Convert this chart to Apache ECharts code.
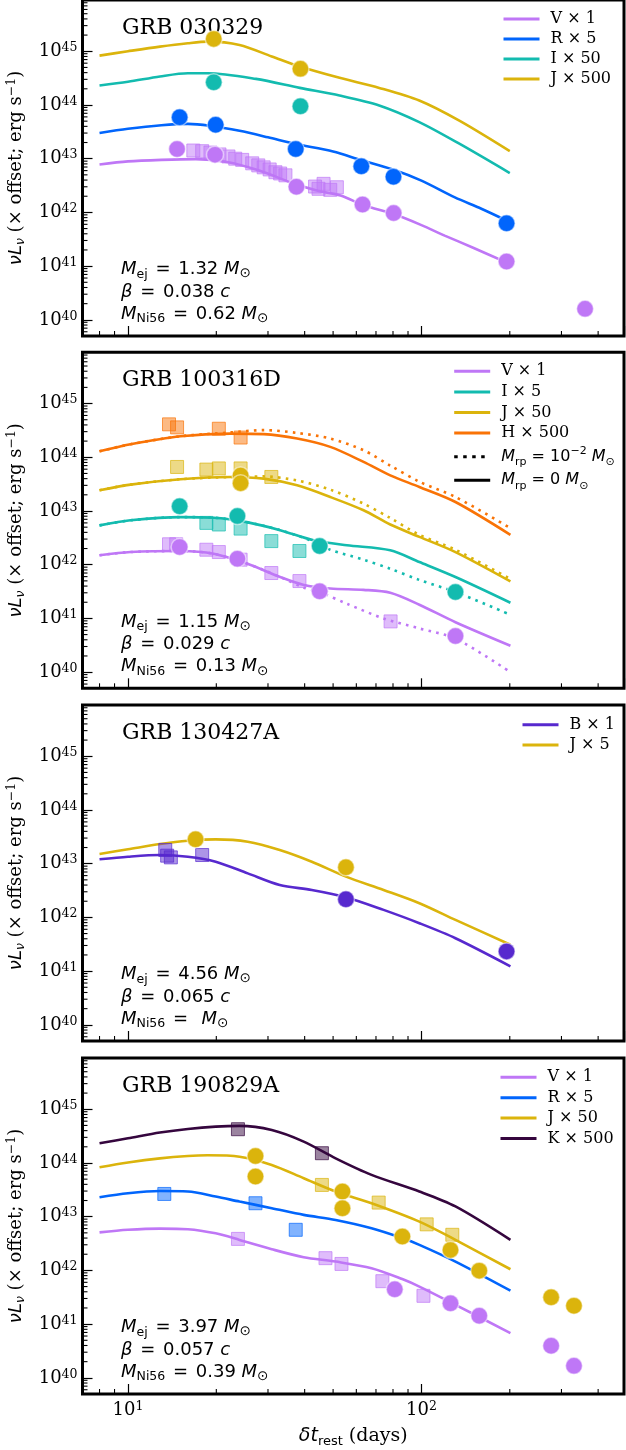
<!DOCTYPE html>
<html><head><meta charset="utf-8">
<script src="https://cdn.jsdelivr.net/npm/echarts@6/dist/echarts.min.js"></script>
<style>html,body{margin:0;padding:0;background:#fff}#c{width:626px;height:1450px}</style>
</head><body><div id="c"></div>
<script>
// ---------- axis ranges / ticks ----------
const X_MIN = 7, X_MAX = 490, Y_MIN = 5e39, Y_MAX = 9e45;
const X_MINOR = [8, 9, 20, 30, 40, 50, 60, 70, 80, 90, 200, 300, 400];
const MANTISSA = [2, 3, 4, 5, 6, 7, 8, 9];
const DECADES = [39, 40, 41, 42, 43, 44, 45];

// ---------- panel texts ----------
const TITLES = ['GRB 030329', 'GRB 100316D', 'GRB 130427A', 'GRB 190829A'];
const M_EJ = ['1.32', '1.15', '4.56', '3.97'];
const BETA = ['0.038', '0.029', '0.065', '0.057'];
const M_NI = ['0.62', '0.13', '', '0.39'];

// ---------- colours ----------
const C = {V:'#bf77f6', R:'#0165fc', I:'#13bbaf', J:'#dbb40c', H:'#f97306', K:'#35063e', B:'#5729ce'};

// ---------- Panel 1 : GRB 030329 ----------
const P1_V_MODEL = [[8,7.8e42],[10,8.9e42],[13,9.5e42],[17,9.8e42],[22,8.6e42],[28,6.0e42],[37,3.4e42],[44,2.55e42],[53,2.06e42],[64,1.34e42],[80,9.4e41],[100,5.8e41],[120,3.7e41],[150,2.2e41],[200,1.1e41]];
const P1_R_MODEL = [[8,3.0e43],[10,3.6e43],[13,4.2e43],[16,4.45e43],[19,4.1e43],[24,3.3e43],[30,2.5e43],[37,1.89e43],[50,1.36e43],[62,9.5e42],[80,6.3e42],[100,3.9e42],[130,1.9e42],[160,1.17e42],[200,6.6e41]];
const P1_I_MODEL = [[8,2.3e44],[10,2.7e44],[12.85,3.4e44],[16,3.9e44],[18.7,3.9e44],[27.3,3.06e44],[38.5,2.08e44],[52.6,1.5e44],[71.8,9.8e43],[98.3,4.8e43],[134.6,1.9e43],[200,5.4e42]];
const P1_J_MODEL = [[8,8.3e44],[10,1.0e45],[12.85,1.22e45],[16,1.41e45],[18.7,1.51e45],[24,1.31e45],[30.9,8.0e44],[38.5,5.2e44],[52.6,3.2e44],[71.8,2.08e44],[98.3,1.21e44],[134.6,5.1e43],[200,1.38e43]];
const P1_V_CIRC = [[14.7,1.52e43],[19.8,1.19e43],[37.5,3.0e42],[63,1.4e42],[80.4,9.7e41],[195,1.22e41],[361,1.6e40]];
const P1_V_SQ = [[16.7,1.42e43],[17.9,1.38e43],[19.1,1.30e43],[20.5,1.2e43],[22.0,1.10e43],[23.2,1.0e43],[24.5,9.5e42],[26.5,8.2e42],[27.8,7.5e42],[29.0,6.9e42],[30.4,6.3e42],[31.8,5.6e42],[33,5.3e42],[34.4,4.9e42],[43.4,3.03e42],[44.6,2.75e42],[46.4,3.4e42],[48.9,2.63e42],[51.5,2.94e42]];
const P1_R_CIRC = [[15.0,5.9e43],[19.9,4.3e43],[37.3,1.52e43],[62.4,7.2e42],[80.3,4.6e42],[195,6.3e41]];
const P1_I_CIRC = [[19.6,2.65e44],[38.7,9.5e43]];
const P1_J_CIRC = [[19.6,1.7e45],[38.7,4.7e44]];

// ---------- Panel 2 : GRB 100316D ----------
const P2_V_MODEL = [[8,1.5e42],[10.2,1.72e42],[15.1,1.8e42],[19.6,1.6e42],[25.4,1.05e42],[33,5.9e41],[39.5,4.25e41],[48.9,3.6e41],[63.5,3.4e41],[78.3,3.0e41],[98.4,1.8e41],[130.6,8.5e40],[201,3.1e40]];
const P2_V_DOT = [[8,1.5e42],[10.2,1.72e42],[15.1,1.8e42],[19.6,1.6e42],[25.4,1.05e42],[33,5.9e41],[39.5,3.8e41],[45,3.1e41],[56,1.85e41],[74.3,1.0e41],[98.4,6.5e40],[130.6,4.2e40],[201,1.0e40]];
const P2_I_MODEL = [[8,5.4e42],[10.2,6.7e42],[15.1,7.7e42],[19.6,7.5e42],[25.4,6.2e42],[33,4.4e42],[42.9,2.85e42],[55.7,2.3e42],[78.3,1.85e42],[98.4,1.12e42],[130.6,5.9e41],[201,1.96e41]];
const P2_I_DOT = [[8,5.4e42],[10.2,6.7e42],[15.1,7.7e42],[19.6,7.5e42],[25.4,6.2e42],[33,4.4e42],[42.9,2.7e42],[48.9,1.9e42],[63.5,1.24e42],[78.3,8.4e41],[98.4,5.2e41],[130.6,3.1e41],[201,1.17e41]];
const P2_J_MODEL = [[8,2.43e43],[10.2,3.1e43],[15.1,3.9e43],[22.3,4.3e43],[29,4.0e43],[37.7,3.0e43],[48.9,1.82e43],[63.5,1.03e43],[78.3,5.6e42],[98.4,3.3e42],[130.6,1.72e42],[201,4.9e41]];
const P2_J_DOT = [[8,2.43e43],[10.2,3.1e43],[15.1,3.9e43],[22.3,4.3e43],[29,4.4e43],[37.7,3.7e43],[48.9,2.5e43],[63.5,1.37e43],[78.3,7.4e42],[98.4,3.6e42],[130.6,1.9e42],[201,5.4e41]];
const P2_H_MODEL = [[8,1.29e44],[10.2,1.75e44],[15.1,2.46e44],[22.3,2.76e44],[29,2.7e44],[37.7,2.23e44],[48.9,1.56e44],[63.5,8.2e43],[78.3,4.6e43],[98.4,2.8e43],[130.6,1.47e43],[201,3.6e42]];
const P2_H_DOT = [[8,1.29e44],[10.2,1.75e44],[15.1,2.46e44],[22.3,2.9e44],[29,3.2e44],[37.7,2.84e44],[48.9,2.23e44],[63.5,1.35e44],[78.3,7.0e43],[98.4,3.5e43],[130.6,1.82e43],[201,4.8e42]];
const P2_V_CIRC = [[15.0,2.13e42],[23.6,1.29e42],[45.0,3.2e41],[130.6,4.7e40]];
const P2_V_SQ = [[13.8,2.4e42],[14.6,2.4e42],[18.5,1.9e42],[20.4,1.72e42],[24.2,1.24e42],[30.8,7.0e41],[38.4,4.96e41],[78.5,8.8e40]];
const P2_I_CIRC = [[15.0,1.22e43],[23.6,8.1e42],[45.0,2.22e42],[130.6,3.1e41]];
const P2_I_SQ = [[18.5,6.0e42],[20.4,5.6e42],[24.2,4.7e42],[30.8,2.75e42],[38.4,1.8e42]];
const P2_J_CIRC = [[24.2,4.6e43],[24.2,3.3e43]];
const P2_J_SQ = [[14.7,6.6e43],[18.5,5.9e43],[20.4,6.2e43],[24.2,6.2e43],[30.8,4.3e43]];
const P2_H_SQ = [[13.8,4.1e44],[14.7,3.6e44],[20.4,3.4e44],[24.2,2.33e44]];

// ---------- Panel 3 : GRB 130427A ----------
const P3_B_MODEL = [[8,1.21e43],[10,1.35e43],[12.85,1.45e43],[16,1.35e43],[19.9,1.09e43],[25.6,6.6e42],[32.9,4.0e42],[42.3,3.25e42],[55.3,2.38e42],[74.3,1.38e42],[98.4,7.8e41],[130.6,4.1e41],[201,1.23e41]];
const P3_J_MODEL = [[8,1.52e43],[10,1.85e43],[12.85,2.32e43],[16,2.68e43],[19.9,2.84e43],[25.6,2.57e43],[32.9,1.8e43],[42.3,1.09e43],[55.3,5.75e42],[74.3,3.25e42],[98.4,1.84e42],[130.6,9.0e41],[201,3.1e41]];
const P3_B_SQ = [[13.4,1.8e43],[13.6,1.41e43],[14.0,1.31e43],[17.9,1.45e43]];
const P3_B_CIRC = [[55.3,2.18e42],[195,2.33e41]];
const P3_J_CIRC = [[17.0,2.84e43],[55.3,8.6e42]];

// ---------- Panel 4 : GRB 190829A ----------
const P4_V_MODEL = [[8,5.1e42],[10,5.7e42],[12.85,6.0e42],[16,5.85e42],[19.9,4.9e42],[24,3.7e42],[30.9,2.48e42],[39.7,1.76e42],[51,1.46e42],[67.6,1.1e42],[86,6.9e41],[98.4,5.0e41],[130.6,2.29e41],[201,6.8e40]];
const P4_R_MODEL = [[8,2.3e43],[10,2.73e43],[12.85,3.0e43],[16,2.94e43],[19.9,2.37e43],[24,1.91e43],[30.9,1.44e43],[39.7,1.08e43],[51,8.7e42],[67.6,6.1e42],[86,4.0e42],[98.4,2.99e42],[130.6,1.46e42],[201,4.2e41]];
const P4_J_MODEL = [[8,8.3e43],[10,1.02e44],[12.85,1.22e44],[16,1.35e44],[18.7,1.39e44],[24,1.31e44],[30.9,9.2e43],[39.7,5.2e43],[51,2.94e43],[67.6,1.78e43],[98.4,8.1e42],[130.6,3.7e42],[201,1.05e42]];
const P4_K_MODEL = [[8,2.33e44],[10,2.88e44],[12.85,3.68e44],[16,4.3e44],[19.9,4.75e44],[24,4.9e44],[30.9,4.1e44],[39.7,2.5e44],[51,1.22e44],[67.6,6.0e43],[98.4,2.94e43],[130.6,1.55e43],[201,3.7e42]];
const P4_V_SQ = [[23.7,3.86e42],[47.1,1.69e42],[53.4,1.32e42],[73.6,6.3e41],[101.6,3.36e41]];
const P4_V_CIRC = [[81.1,4.47e41],[125.6,2.45e41],[157.4,1.43e41],[276.7,3.94e40],[330.9,1.67e40]];
const P4_R_SQ = [[13.3,2.65e43],[27.2,1.78e43],[37.3,5.7e42]];
const P4_J_CIRC = [[27.2,1.35e44],[27.2,5.6e43],[53.8,2.94e43],[53.8,1.44e43],[86.1,4.27e42],[125.6,2.41e42],[157.4,9.9e41],[276.7,3.17e41],[330.9,2.19e41]];
const P4_J_SQ = [[45.8,3.9e43],[71.5,1.83e43],[104.2,7.2e42],[127.4,4.6e42]];
const P4_K_SQ = [[23.7,4.25e44],[45.8,1.52e44]];

// ---------- layout ----------
const TOPS = [0, 352.3, 705, 1058];
const PH = 336, GL = 82.5, GR = 2;

function hexA(h, a) {
  const n = parseInt(h.slice(1), 16);
  return `rgba(${(n >> 16) & 255},${(n >> 8) & 255},${n & 255},${a})`;
}
const series = [];
function line(g, name, data, color, dotted) {
  series.push({type:'line', name, xAxisIndex:g, yAxisIndex:g, data, symbol:'none', showSymbol:false,
    smooth:0.3, silent:true, z:2,
    lineStyle:{color, width:2.6, type: dotted ? [2.6, 5.2] : 'solid', cap:'butt'}, itemStyle:{color}});
}
function circ(g, data, color) {
  series.push({type:'scatter', xAxisIndex:g, yAxisIndex:g, data, symbol:'circle', symbolSize:17, silent:true, z:4,
    itemStyle:{color, borderColor:'rgba(255,255,255,0.5)', borderWidth:1.5, opacity:1}});
}
function sq(g, data, color) {
  series.push({type:'scatter', xAxisIndex:g, yAxisIndex:g, data, symbol:'rect', symbolSize:13, silent:true, z:3,
    itemStyle:{color:hexA(color, 0.62), borderColor:hexA(color, 0.85), borderWidth:1}});
}

// Panel 1
line(0,'V × 1',P1_V_MODEL,C.V); line(0,'R × 5',P1_R_MODEL,C.R); line(0,'I × 50',P1_I_MODEL,C.I); line(0,'J × 500',P1_J_MODEL,C.J);
sq(0,P1_V_SQ,C.V); circ(0,P1_V_CIRC,C.V); circ(0,P1_R_CIRC,C.R); circ(0,P1_I_CIRC,C.I); circ(0,P1_J_CIRC,C.J);
// Panel 2
line(1,'V × 1 dotted',P2_V_DOT,C.V,true); line(1,'I × 5 dotted',P2_I_DOT,C.I,true); line(1,'J × 50 dotted',P2_J_DOT,C.J,true); line(1,'H × 500 dotted',P2_H_DOT,C.H,true);
line(1,'V × 1',P2_V_MODEL,C.V); line(1,'I × 5',P2_I_MODEL,C.I); line(1,'J × 50',P2_J_MODEL,C.J); line(1,'H × 500',P2_H_MODEL,C.H);
sq(1,P2_V_SQ,C.V); sq(1,P2_I_SQ,C.I); sq(1,P2_J_SQ,C.J); sq(1,P2_H_SQ,C.H);
circ(1,P2_V_CIRC,C.V); circ(1,P2_I_CIRC,C.I); circ(1,P2_J_CIRC,C.J);
series.push({type:'line', name:'MRP_DOT', xAxisIndex:1, yAxisIndex:1, data:[], symbol:'none', lineStyle:{color:'#000', width:3, type:[3.5,5.5]}, itemStyle:{color:'#000'}});
series.push({type:'line', name:'MRP_SOLID', xAxisIndex:1, yAxisIndex:1, data:[], symbol:'none', lineStyle:{color:'#000', width:4}, itemStyle:{color:'#000'}});
// Panel 3
line(2,'B × 1',P3_B_MODEL,C.B); line(2,'J × 5',P3_J_MODEL,C.J);
sq(2,P3_B_SQ,C.B); circ(2,P3_B_CIRC,C.B); circ(2,P3_J_CIRC,C.J);
// Panel 4
line(3,'V × 1',P4_V_MODEL,C.V); line(3,'R × 5',P4_R_MODEL,C.R); line(3,'J × 50',P4_J_MODEL,C.J); line(3,'K × 500',P4_K_MODEL,C.K);
sq(3,P4_V_SQ,C.V); sq(3,P4_R_SQ,C.R); sq(3,P4_J_SQ,C.J); sq(3,P4_K_SQ,C.K);
circ(3,P4_V_CIRC,C.V); circ(3,P4_J_CIRC,C.J);

// minor ticks (log positions) drawn through the axes' own scales
const Y_MINOR = [];
DECADES.forEach(d => MANTISSA.forEach(m => { const v = m * Math.pow(10, d); if (v > Y_MIN && v < Y_MAX) Y_MINOR.push(v); }));
for (let g = 0; g < 4; g++) {
  series.push({type:'custom', xAxisIndex:g, yAxisIndex:g, silent:true, z:10, clip:false,
    data: Y_MINOR.map(v => [X_MIN, v]),
    renderItem:(p, api) => { const q = api.coord([api.value(0), api.value(1)]);
      return {type:'line', shape:{x1:q[0], y1:q[1], x2:q[0] + 5, y2:q[1]}, style:{stroke:'#000', lineWidth:1.1}}; }});
  series.push({type:'custom', xAxisIndex:g, yAxisIndex:g, silent:true, z:10, clip:false,
    data: X_MINOR.map(v => [v, Y_MIN]),
    renderItem:(p, api) => { const q = api.coord([api.value(0), api.value(1)]);
      return {type:'line', shape:{x1:q[0], y1:q[1], x2:q[0], y2:q[1] - 5}, style:{stroke:'#000', lineWidth:1.1}}; }});
}

const tickRich = {
  b:{fontFamily:'DejaVu Serif', fontSize:18, lineHeight:20, color:'#000'},
  s:{fontFamily:'DejaVu Serif', fontSize:12.5, lineHeight:12, verticalAlign:'top', color:'#000'}
};
function powLabel(v) {
  const e = Math.round(Math.log10(v));
  return Math.abs(v / Math.pow(10, e) - 1) < 1e-6 ? '{b|10}{s|' + e + '}' : '';
}

const xAxis = TOPS.map((t, i) => ({
  type:'log', gridIndex:i, logBase:10, min:X_MIN, max:X_MAX, splitNumber:2,
  axisLine:{show:false}, splitLine:{show:false}, minorTick:{show:false},
  axisTick:{show:true, inside:true, length:10, lineStyle:{color:'#000', width:1.2}},
  axisLabel:{show:i === 3, margin:6, formatter:powLabel, rich:tickRich, showMinLabel:false, showMaxLabel:false},
  name: i === 3 ? '{i|δt}{sb|rest}{n| (days)}' : '', nameLocation:'middle', nameGap:30, nameMoveOverlap:false,
  nameTextStyle:{color:'#000', rich:{
    i:{fontFamily:'DejaVu Sans', fontStyle:'italic', fontSize:19, lineHeight:24, color:'#000'},
    sb:{fontFamily:'DejaVu Sans', fontSize:13, lineHeight:16, verticalAlign:'bottom', color:'#000'},
    n:{fontFamily:'DejaVu Serif', fontSize:19, lineHeight:24, color:'#000'}}}
}));
const yAxis = TOPS.map((t, i) => ({
  type:'log', gridIndex:i, logBase:10, min:Y_MIN, max:Y_MAX, splitNumber:6,
  axisLine:{show:false}, splitLine:{show:false}, minorTick:{show:false},
  axisTick:{show:true, inside:true, length:10, lineStyle:{color:'#000', width:1.2}},
  axisLabel:{margin:5, formatter:powLabel, rich:tickRich, showMinLabel:false, showMaxLabel:false},
  name:'{i|νL}{sb|ν}{n| (× offset; erg s}{sp|−1}{n|)}', nameLocation:'middle', nameRotate:90, nameGap:55, nameMoveOverlap:false,
  nameTextStyle:{color:'#000', rich:{
    i:{fontFamily:'DejaVu Sans', fontStyle:'italic', fontSize:18, lineHeight:22, color:'#000'},
    sb:{fontFamily:'DejaVu Sans', fontStyle:'italic', fontSize:12.5, lineHeight:14, verticalAlign:'bottom', color:'#000'},
    n:{fontFamily:'DejaVu Serif', fontSize:18, lineHeight:22, color:'#000'},
    sp:{fontFamily:'DejaVu Serif', fontSize:12.5, lineHeight:14, verticalAlign:'top', color:'#000'}}}
}));

const legendRich = {
  s:{fontFamily:'DejaVu Serif', fontSize:16, lineHeight:20, color:'#000'},
  m:{fontFamily:'DejaVu Sans', fontSize:16, lineHeight:22, color:'#000'},
  mi:{fontFamily:'DejaVu Sans', fontStyle:'italic', fontSize:16, lineHeight:22, color:'#000'},
  msb:{fontFamily:'DejaVu Sans', fontSize:11, lineHeight:14, verticalAlign:'bottom', color:'#000'},
  msp:{fontFamily:'DejaVu Sans', fontSize:11, lineHeight:14, verticalAlign:'top', color:'#000'}
};
function legendFmt(n) {
  if (n === 'MRP_DOT') return '{mi|M}{msb|rp}{m| = 10}{msp|−2}{m| }{mi|M}{msb|⊙}';
  if (n === 'MRP_SOLID') return '{mi|M}{msb|rp}{m| = 0 }{mi|M}{msb|⊙}';
  return '{s|' + n + '}';
}
const LEG = [
  {left:502, top:11, gap:4, data:['V × 1','R × 5','I × 50','J × 500']},
  {left:452.7, top:352.3 + 11, gap:4.6, data:['V × 1','I × 5','J × 50','H × 500','MRP_DOT','MRP_SOLID']},
  {left:521, top:705 + 11.7, gap:4.3, data:['B × 1','J × 5']},
  {left:499, top:1058 + 11.3, gap:4.4, data:['V × 1','R × 5','J × 50','K × 500']}
];
const legend = LEG.map(L => ({
  orient:'vertical', left:L.left, top:L.top, padding:0, itemWidth:36, itemHeight:3, itemGap:L.gap, align:'left',
  selectedMode:false, data:L.data, formatter:legendFmt, itemStyle:{opacity:0, borderWidth:0}, lineStyle:{width:3},
  textStyle:{color:'#000', fontFamily:'DejaVu Serif', fontSize:16, padding:[0,0,0,6], rich:legendRich}
}));

const annRich = {
  n:{fontFamily:'DejaVu Sans', fontSize:18, lineHeight:22.4, fill:'#000'},
  eq:{fontFamily:'DejaVu Sans', fontSize:18, lineHeight:22.4, fill:'#000', padding:[0,2,0,2]},
  i:{fontFamily:'DejaVu Sans', fontStyle:'italic', fontSize:18, lineHeight:22.4, fill:'#000'},
  sb:{fontFamily:'DejaVu Sans', fontSize:12.5, lineHeight:14, verticalAlign:'bottom', fill:'#000'},
  so:{fontFamily:'DejaVu Sans', fontSize:13.5, lineHeight:15, verticalAlign:'bottom', fill:'#000'}
};
const graphic = [];
TOPS.forEach((t, i) => {
  graphic.push({type:'text', x:122, y:t + 28, silent:true,
    style:{text:TITLES[i], fill:'#000', font:'22px "DejaVu Serif"', verticalAlign:'middle', align:'left'}});
  graphic.push({type:'text', x:121, y:t + 258.5, silent:true,
    style:{text:`{i|M}{sb|ej}{eq| = }{n|${M_EJ[i]} }{i|M}{so|⊙}\n{i|β}{eq| = }{n|${BETA[i]} }{i|c}\n{i|M}{sb|Ni56}{eq| = }{n|${M_NI[i]} }{i|M}{so|⊙}`,
      rich:annRich, fill:'#000', font:'18px "DejaVu Sans"', verticalAlign:'top', align:'left'}});
});

const chart = echarts.init(document.getElementById('c'), null, {renderer:'canvas'});
chart.setOption({
  animation:false,
  backgroundColor:'#fff',
  grid: TOPS.map(t => ({left:GL, right:GR, top:t, height:PH, show:true, borderColor:'#000', borderWidth:3,
    backgroundColor:'transparent', containLabel:false, outerBoundsMode:'none'})),
  xAxis, yAxis, legend, series, graphic
});
</script></body></html>
